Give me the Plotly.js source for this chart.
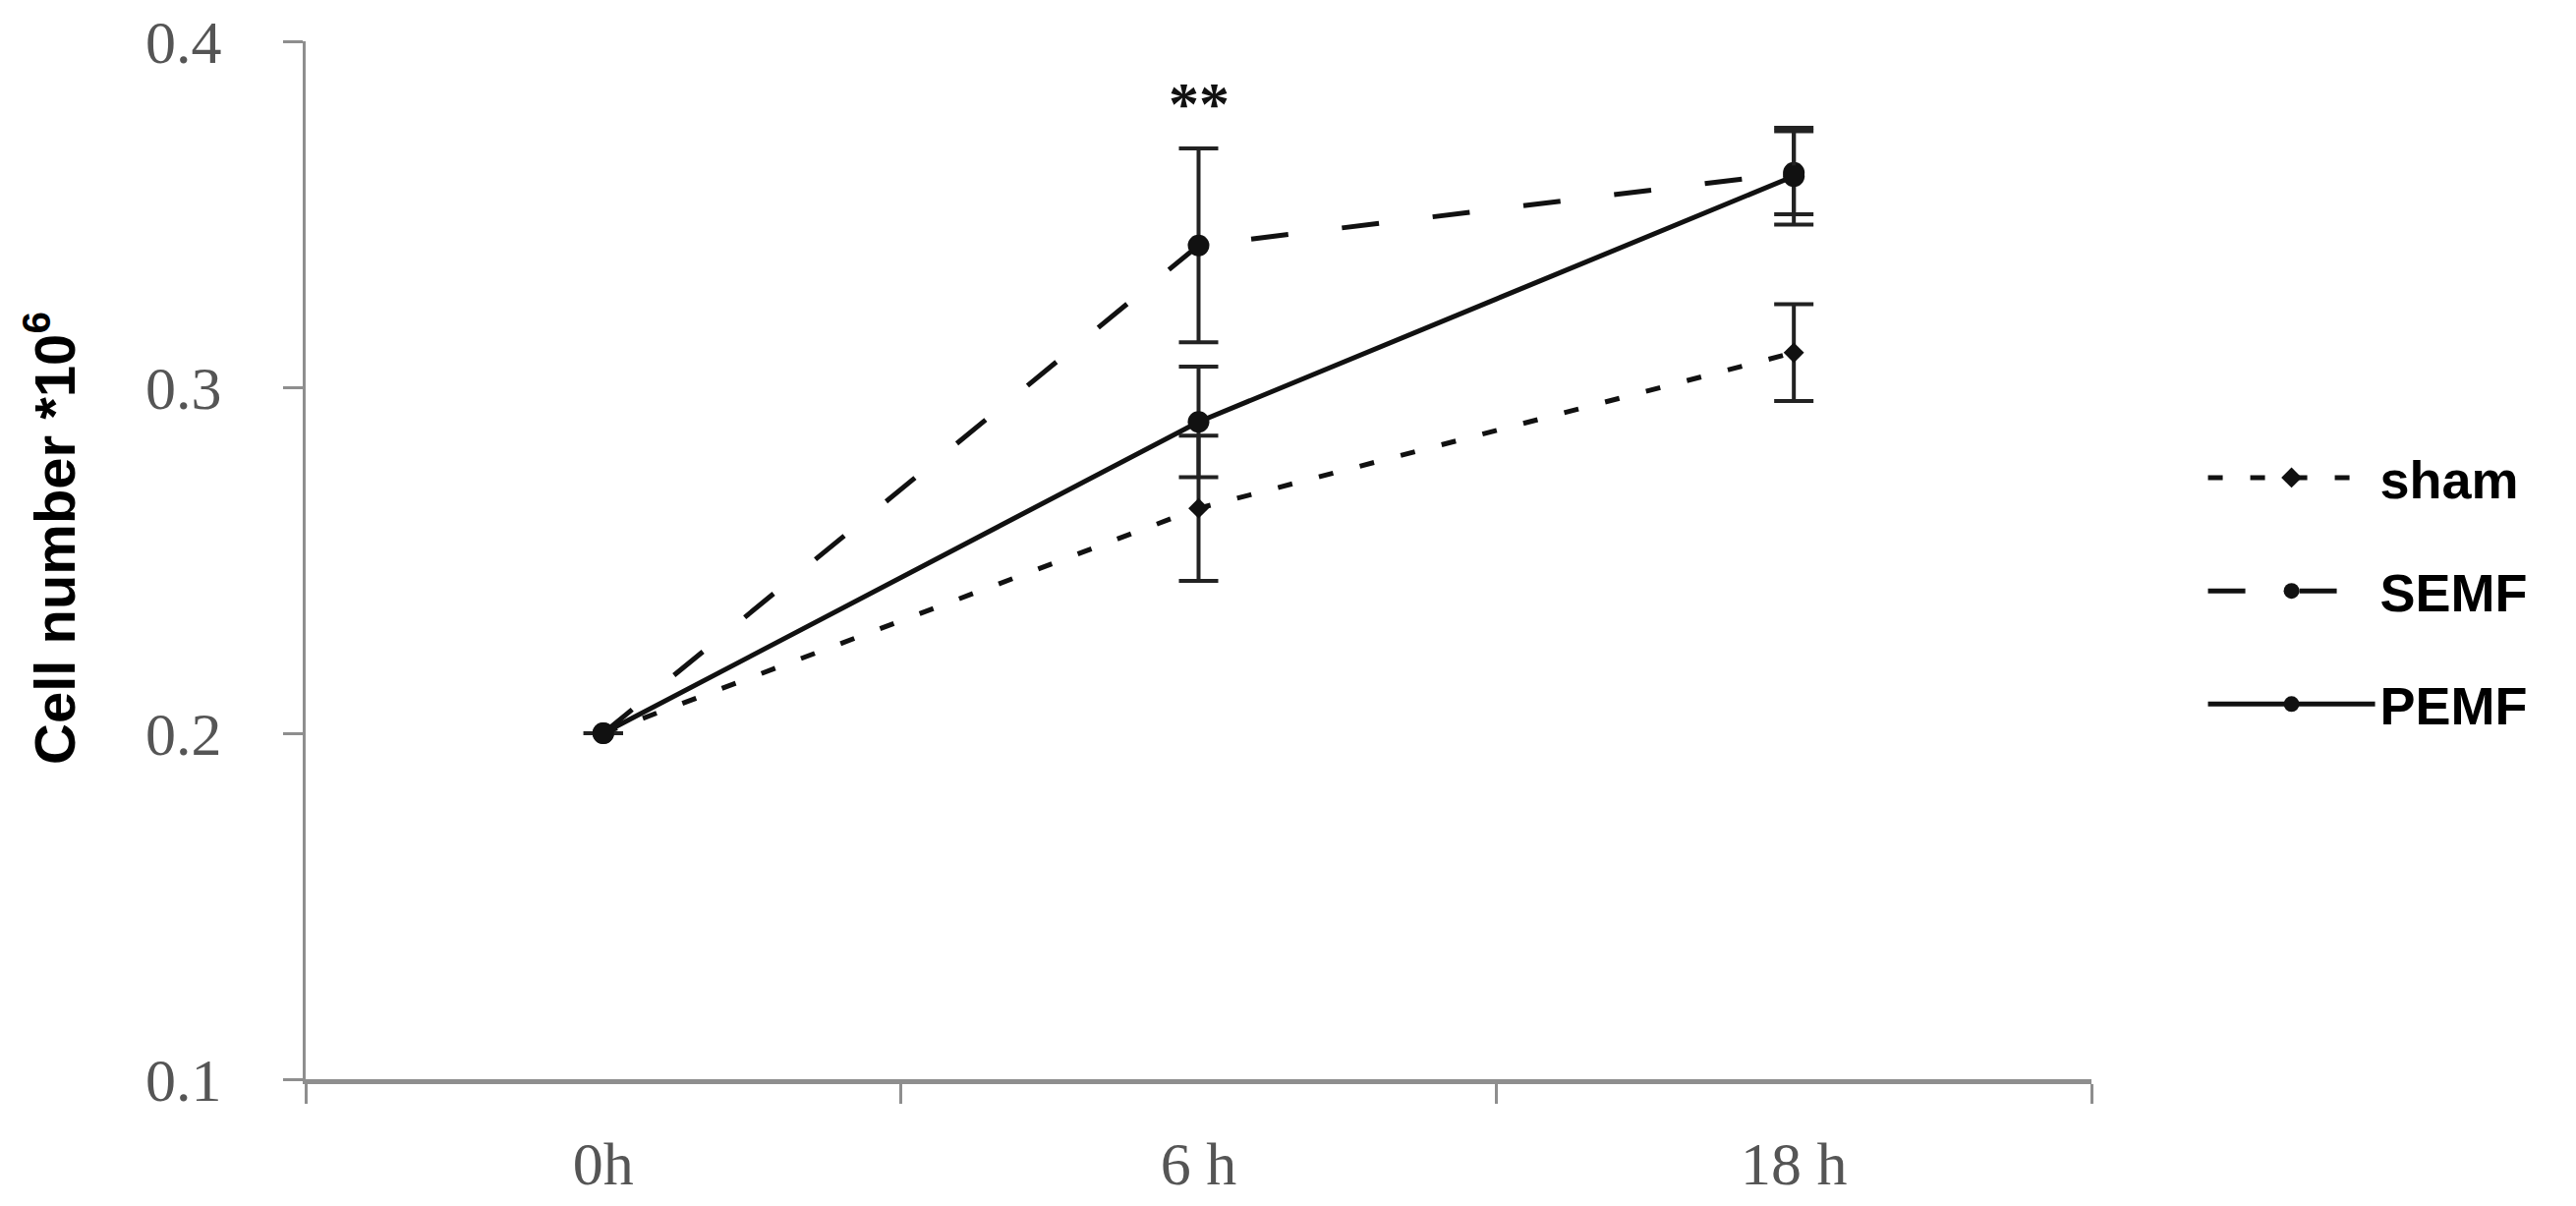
<!DOCTYPE html>
<html>
<head>
<meta charset="utf-8">
<script src="https://cdn.plot.ly/plotly-3.0.1.min.js"></script>
<style>
  html, body { margin: 0; padding: 0; background: #fff; }
  #chart { width: 2621px; height: 1227px; }
</style>
</head>
<body>
<div id="chart"></div>
<script>
// time points
var times = ['0h', '6 h', '18 h'];

// mean cell number (*10^6)
var sham = [0.200, 0.265, 0.310];
var semf = [0.200, 0.341, 0.362];
var pemf = [0.200, 0.290, 0.361];

// error bars
var shamErr = [0, 0.021, 0.014];
var semfErr = [0, 0.028, 0.012];
var pemfErr = [0, 0.016, 0.014];

var lineCol = '#111';
var axisCol = '#8e8e8e';

function errBar(arr) {
    return {type: 'data', array: arr, visible: true, color: '#222', thickness: 4, width: 20};
}

var data = [
    {
        x: times, y: sham, name: 'sham', legendgroup: 'a',
        mode: 'lines+markers', type: 'scatter',
        line: {color: lineCol, width: 5, dash: '15px,28px'},
        marker: {symbol: 'diamond', size: 16, color: lineCol},
        error_y: errBar(shamErr)
    },
    {
        x: times, y: semf, name: 'SEMF', legendgroup: 'b',
        mode: 'lines+markers', type: 'scatter',
        line: {color: lineCol, width: 5, dash: '38px,55px'},
        marker: {symbol: 'circle', size: 22, color: lineCol},
        error_y: errBar(semfErr)
    },
    {
        x: times, y: pemf, name: 'PEMF', legendgroup: 'c',
        mode: 'lines+markers', type: 'scatter',
        line: {color: lineCol, width: 5},
        marker: {symbol: 'circle', size: 22, color: lineCol},
        error_y: errBar(pemfErr)
    }
];

var layout = {
    width: 2621,
    height: 1227,
    margin: {l: 311, r: 493, t: 42, b: 129},
    paper_bgcolor: '#fff',
    plot_bgcolor: '#fff',
    showlegend: true,
    legend: {
        x: 1.0625, xanchor: 'left',
        y: 0.619, yanchor: 'top',
        font: {family: 'Liberation Sans', size: 54, color: '#000', weight: 'bold'},
        itemwidth: 170,
        tracegroupgap: 42,
        bgcolor: 'rgba(0,0,0,0)'
    },
    xaxis: {
        type: 'category',
        range: [-0.5, 2.5],
        showgrid: false,
        zeroline: false,
        showline: true,
        linecolor: axisCol,
        linewidth: 5,
        ticks: 'outside',
        tickson: 'boundaries',
        ticklen: 20,
        tickwidth: 3,
        tickcolor: axisCol,
        ticklabelstandoff: 28,
        tickfont: {family: 'Liberation Serif', size: 62, color: '#555'}
    },
    yaxis: {
        range: [0.1, 0.4],
        dtick: 0.1,
        tickformat: '.1f',
        showgrid: false,
        zeroline: false,
        showline: true,
        linecolor: axisCol,
        linewidth: 3,
        ticks: 'outside',
        ticklen: 20,
        tickwidth: 3,
        tickcolor: axisCol,
        ticklabelstandoff: 50,
        tickfont: {family: 'Liberation Serif', size: 62, color: '#555'}
    },
    annotations: [
        {
            text: 'Cell number *10<sup>6</sup>',
            xref: 'paper', yref: 'paper',
            x: -0.143, y: 0.521,
            xanchor: 'center', yanchor: 'middle',
            textangle: -90,
            showarrow: false,
            font: {family: 'Liberation Sans', size: 58, color: '#000', weight: 'bold'}
        },
        {
            text: '**',
            x: '6 h', y: 0.382,
            xref: 'x', yref: 'y',
            yanchor: 'middle',
            showarrow: false,
            font: {family: 'Liberation Serif', size: 62, color: '#111', weight: 'bold'}
        }
    ]
};

Plotly.newPlot('chart', data, layout, {staticPlot: true, displayModeBar: false});
</script>
</body>
</html>
